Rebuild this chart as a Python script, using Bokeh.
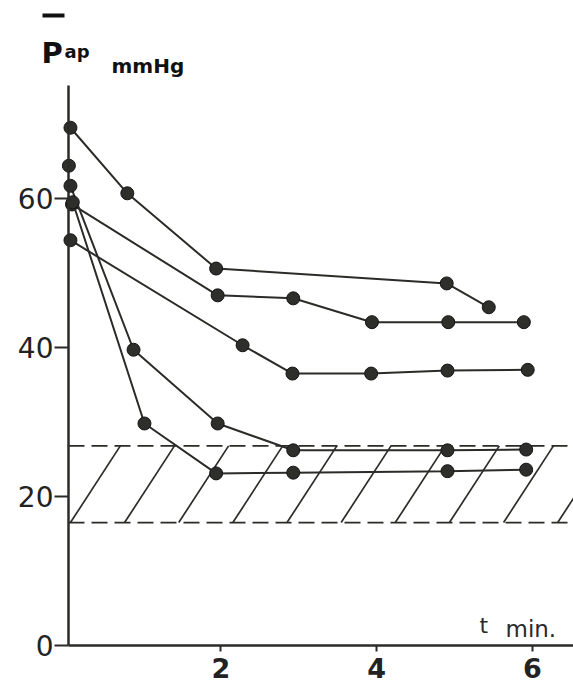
import numpy as np
from bokeh.plotting import figure
from bokeh.models import Range1d, Label, FixedTicker, ColumnDataSource
from bokeh.embed import file_html
from bokeh.resources import INLINE

# ---- data (time in min, mean pulmonary arterial pressure in mmHg) ----
t_a = [0.07, 0.80, 1.94, 4.90, 5.44]
p_a = [69.5, 60.7, 50.6, 48.6, 45.4]

t_b = [0.09, 1.96, 2.93, 3.94, 4.92, 5.89]
p_b = [59.2, 47.0, 46.6, 43.4, 43.4, 43.4]

t_c = [0.07, 2.28, 2.92, 3.93, 4.91, 5.94]
p_c = [54.4, 40.3, 36.5, 36.5, 36.9, 37.0]

t_d = [0.07, 0.88, 1.96, 2.93, 4.91, 5.92]
p_d = [61.7, 39.7, 29.8, 26.2, 26.2, 26.3]

t_e = [0.10, 1.02, 1.94, 2.93, 4.91, 5.92]
p_e = [59.5, 29.8, 23.1, 23.2, 23.4, 23.6]

t_f = [0.05]
p_f = [64.4]

band_low = 16.5
band_high = 26.8

x_ticks = [2, 4, 6]
y_ticks = [0, 20, 40, 60]

INK = "#2b2b27"
W, H = 573, 683

# pixel <-> data mapping of the page (frame fills the whole canvas)
PX0, PXS = 64.5, 77.9     # pixel of t=0, pixels per minute
PY0, PYS = 645.0, 7.45    # pixel of 0 mmHg, pixels per mmHg
def fx(px):
    return (px - PX0) / PXS
def fy(py):
    return (PY0 - py) / PYS

T_AXIS = fx(68)           # where the pressure axis stands
T_END = fx(W)
P_TOP = fy(85)

p = figure(width=W, height=H, output_backend="svg", toolbar_location=None,
           x_range=Range1d(fx(0), fx(W)), y_range=Range1d(fy(H), fy(0)),
           min_border=0, background_fill_color="white",
           border_fill_color="white", outline_line_color=None)
p.grid.visible = False

# axes drawn at fixed positions inside the canvas
p.xaxis.fixed_location = 0
p.yaxis.fixed_location = T_AXIS
p.xaxis.bounds = (T_AXIS, T_END)
p.yaxis.bounds = (0, P_TOP)
for ax in (p.xaxis[0], p.yaxis[0]):
    ax.axis_line_color = INK
    ax.axis_line_width = 2.5
    ax.major_tick_line_color = INK
    ax.major_tick_line_width = 2
    ax.minor_tick_line_color = None
    ax.major_tick_in = 0
    ax.major_label_text_color = "#222222"

p.xaxis.ticker = FixedTicker(ticks=x_ticks)
p.yaxis.ticker = FixedTicker(ticks=y_ticks)
p.xaxis.major_tick_out = 6
p.xaxis.major_label_standoff = 6
p.xaxis.major_label_text_font = "DejaVu Sans"
p.xaxis.major_label_text_font_style = "bold"
p.xaxis.major_label_text_font_size = "27px"
p.yaxis.major_tick_out = 14
p.yaxis.major_label_standoff = 1
p.yaxis.major_label_text_font = "DejaVu Sans"
p.yaxis.major_label_text_font_size = "28px"

# normal range band: dashed limits + oblique hatching
p.segment(x0=[T_AXIS, T_AXIS], y0=[band_low, band_high], x1=[T_END, T_END],
          y1=[band_low, band_high], line_color=INK, line_width=1.8, line_dash="16 7")
h0 = np.arange(0.07, 6.6, 0.695)
p.segment(x0=h0, y0=[band_low] * len(h0), x1=h0 + 0.64, y1=[band_high] * len(h0),
          line_color=INK, line_width=1.7)

# series
for tt, pp in ((t_a, p_a), (t_b, p_b), (t_c, p_c), (t_d, p_d), (t_e, p_e), (t_f, p_f)):
    src = ColumnDataSource(dict(t=tt, p=pp))
    if len(tt) > 1:
        p.line("t", "p", source=src, line_color=INK, line_width=2)
    p.scatter("t", "p", source=src, size=13, fill_color="#2e2e2a",
              line_color="#151515", line_width=1)

# titles
p.segment(x0=[fx(42)], y0=[fy(15)], x1=[fx(64)], y1=[fy(15)],
          line_color="#111111", line_width=4)
def lab(px, py, text, size, bold=True, font="DejaVu Sans", color="#111111"):
    p.add_layout(Label(x=fx(px), y=fy(py), text=text, text_font=font,
                       text_font_style="bold" if bold else "normal",
                       text_font_size=size, text_color=color,
                       text_align="left", text_baseline="alphabetic"))
lab(41, 52, "P", "29px")
lab(64, 51, "ap", "18px")
lab(111, 65, "mmHg", "20px")
lab(479, 625, "t", "22px", bold=False, color="#2a2a2a")
lab(505, 628, "min.", "23px", bold=False, color="#2a2a2a")

open("out.html", "w").write(file_html(p, INLINE))
